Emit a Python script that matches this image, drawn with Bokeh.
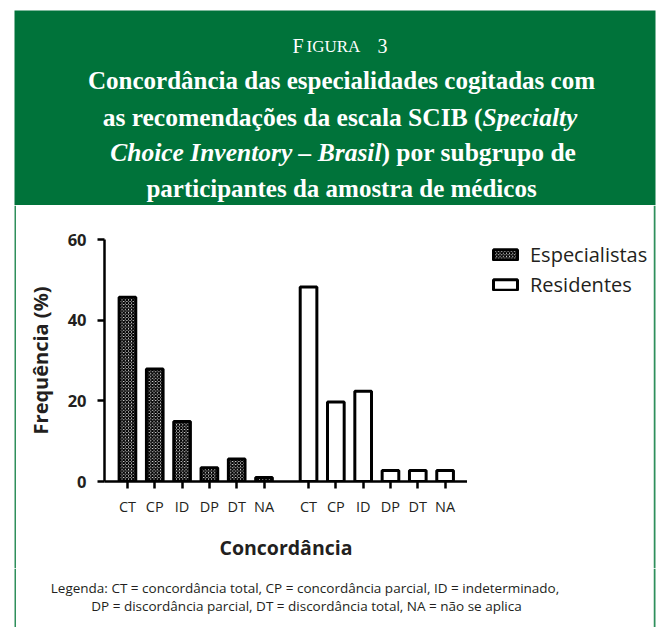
from bokeh.plotting import figure
from bokeh.layouts import column, row
from bokeh.models import Range1d, FixedTicker, Legend, LegendItem, ColumnDataSource
from bokeh.core.properties import value
from bokeh.embed import file_html
from bokeh.resources import INLINE

# ---------------- data ----------------
categories = ["CT", "CP", "ID", "DP", "DT", "NA"]
especialistas = [45.7, 27.9, 14.9, 3.4, 5.6, 1.0]
residentes = [48.2, 19.7, 22.4, 2.7, 2.7, 2.7]
series_names = ["Especialistas", "Residentes"]
y_ticks = [0, 20, 40, 60]
x_label = "Concordância"
y_label = "Frequência (%)"
fig_word_big = "F"
fig_word_small = "IGURA"
fig_number = "3"
title_line2 = "Concordância das especialidades cogitadas com"
title_line3_a = "as recomendações da escala SCIB ("
title_line3_b = "Specialty"
title_line4_a = "Choice Inventory – Brasil"
title_line4_b = ") por subgrupo de"
title_line5 = "participantes da amostra de médicos"
footer_lines = [
    "Legenda: CT = concordância total, CP = concordância parcial, ID = indeterminado,",
    "DP = discordância parcial, DT = discordância total, NA = não se aplica",
]

GREEN = "#00733a"
BORDER = "#2f8f5c"
INK = "#231f20"
SERIF = value("Liberation Serif")
SANS_NAME = "Open Sans"
SANS = value(SANS_NAME)

ESP_STYLE = dict(fill_color="white", hatch_pattern="x", hatch_scale=3.2, hatch_weight=1.5,
                 hatch_color="black", line_color="black", line_width=3)
RES_STYLE = dict(fill_color="white", line_color="black", line_width=3)


def blank(w, h, yflip=True):
    f = figure(width=w, height=h, x_range=Range1d(0, w),
               y_range=Range1d(h, 0) if yflip else Range1d(0, h),
               output_backend="svg", toolbar_location=None, min_border=0,
               x_axis_location=None, y_axis_location=None, outline_line_color=None)
    f.xgrid.visible = False
    f.ygrid.visible = False
    return f


# ---------------- header ----------------
HW, HH = 669, 205
hdr = blank(HW, HH)
hdr.quad(left=[14], right=[655], top=[10], bottom=[HH], fill_color=GREEN, line_color=None)

cx = 341


def htext(x, y, t, size, style="bold", align="center"):
    hdr.text(x=[x], y=[y], text=[t], text_font=SERIF, text_font_size=size,
             text_font_style=style, text_color="white", text_align=align,
             text_baseline="alphabetic")


htext(292, 45.5, fig_word_big, "20px", "normal", "left")
htext(306, 45.5, fig_word_small, "17px", "normal", "left")
htext(377, 45.5, fig_number, "20px", "normal", "left")
htext(cx, 80, title_line2, "25px")
htext(482, 117, title_line3_a, "25.5px", "bold", "right")
htext(482, 117, title_line3_b, "25.5px", "bold italic", "left")
htext(381, 152, title_line4_a, "25.5px", "bold italic", "right")
htext(381, 152, title_line4_b, "25.5px", "bold", "left")
htext(cx, 188, title_line5, "25px")

# ---------------- chart ----------------
group_gap = 0.63
n = len(categories)
esp_x = [float(i) for i in range(n)]
res_x = [float(i + n) + group_gap for i in range(n)]

CW, CH = 451, 363
p = figure(width=CW, height=CH, x_range=Range1d(-0.84, 12.45), y_range=Range1d(0, 60),
           output_backend="svg", toolbar_location=None,
           min_border_left=88, min_border_right=0, min_border_top=34, min_border_bottom=87,
           outline_line_color=None)
p.xgrid.visible = False
p.ygrid.visible = False

src_e = ColumnDataSource(dict(x=esp_x, top=especialistas))
src_r = ColumnDataSource(dict(x=res_x, top=residentes))
p.vbar(x="x", top="top", width=0.61, bottom=0, source=src_e, **ESP_STYLE)
p.vbar(x="x", top="top", width=0.61, bottom=0, source=src_r, **RES_STYLE)

for ax in (p.xaxis[0], p.yaxis[0]):
    ax.axis_line_width = 2.5
    ax.axis_line_color = "black"
    ax.major_tick_line_width = 2.5
    ax.major_tick_line_color = "black"
    ax.major_tick_out = 7
    ax.major_tick_in = 0
    ax.minor_tick_line_color = None

xa = p.xaxis[0]
xa.ticker = FixedTicker(ticks=esp_x + res_x)
xa.major_label_overrides = {x: c for x, c in zip(esp_x + res_x, categories + categories)}
xa.major_label_text_font = SANS_NAME
xa.major_label_text_font_size = "14.5px"
xa.major_label_text_color = INK
xa.major_label_standoff = 8
xa.axis_label = x_label
xa.axis_label_text_font = SANS_NAME
xa.axis_label_text_font_size = "19.5px"
xa.axis_label_text_font_style = "bold"
xa.axis_label_text_color = INK
xa.axis_label_standoff = 15

ya = p.yaxis[0]
ya.ticker = FixedTicker(ticks=y_ticks)
ya.major_label_text_font = SANS_NAME
ya.major_label_text_font_size = "16.5px"
ya.major_label_text_font_style = "bold"
ya.major_label_text_color = INK
ya.major_label_standoff = 11
ya.axis_label = y_label
ya.axis_label_text_font = SANS_NAME
ya.axis_label_text_font_size = "20px"
ya.axis_label_text_font_style = "bold"
ya.axis_label_text_color = INK
ya.axis_label_standoff = 11

# ---------------- legend panel ----------------
LW = 186
leg = blank(LW, CH)
sw_e = leg.vbar(x="x", top="top", width=0.61, source=src_e, visible=False, **ESP_STYLE)
sw_r = leg.vbar(x="x", top="top", width=0.61, source=src_r, visible=False, **RES_STYLE)
legend = Legend(items=[LegendItem(label=series_names[0], renderers=[sw_e]),
                       LegendItem(label=series_names[1], renderers=[sw_r])],
                location=(23, 270), glyph_width=30, glyph_height=13,
                label_standoff=10, padding=0, spacing=3, margin=0,
                border_line_color=None, background_fill_alpha=0,
                inactive_fill_alpha=0,
                label_text_font=SANS_NAME, label_text_font_size="20px",
                label_text_color=INK)
leg.add_layout(legend)

# ---------------- footer ----------------
FW, FH = 637, 59
ftr = blank(FW, FH)
ftr.text(x=[288.5, 290], y=[19.7, 37], text=footer_lines, text_font=SANS,
         text_font_size="13.5px", text_color=INK, text_align="center",
         text_baseline="alphabetic")


# ---------------- side borders ----------------
def strip(w, left, right, h):
    s = blank(w, h, yflip=False)
    s.quad(left=[left], right=[right], top=[h], bottom=[0], fill_color=BORDER, line_color=None)
    return s


mid = row(strip(16, 14, 16, CH), column(p), column(leg), strip(16, 0, 2, CH), spacing=0)
bot = row(strip(16, 14, 16, FH), column(ftr), strip(16, 0, 2, FH), spacing=0)
layout = column(hdr, mid, bot, spacing=0)

open("out.html", "w").write(file_html(layout, INLINE))
